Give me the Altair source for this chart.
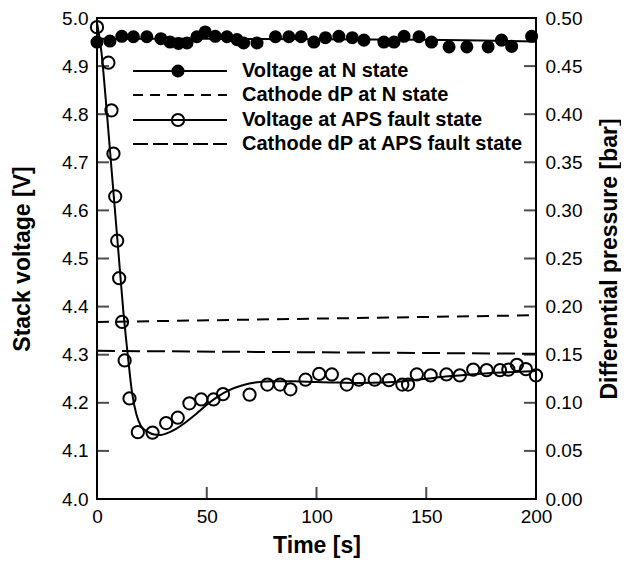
import altair as alt
import pandas as pd

FONT = "Liberation Sans"

# ---- data ----
n_t = [0, 5.9, 11.3, 16.6, 22.7, 29.1, 33.3, 37.1, 41.0, 45.5, 49.3, 53.9, 59.2, 63.8,
       66.8, 72.9, 81.3, 87.4, 93.0, 98.8, 104.1, 110.2, 116.3, 121.6, 130.7, 135.3,
       139.9, 146.7, 152.4, 160.4, 168.5, 178.2, 184.3, 188.9, 198.0]
n_v = [4.950, 4.952, 4.962, 4.961, 4.961, 4.957, 4.950, 4.947, 4.948, 4.961, 4.971, 4.962, 4.961, 4.955,
       4.948, 4.948, 4.961, 4.961, 4.961, 4.950, 4.959, 4.962, 4.959, 4.954, 4.950, 4.950,
       4.962, 4.961, 4.950, 4.940, 4.940, 4.940, 4.954, 4.941, 4.962]

n_fit_t = [0, 50, 100, 150, 175, 200]
n_fit_v = [4.957, 4.957, 4.956, 4.955, 4.953, 4.951]

aps_t = [0, 5.2, 6.6, 7.5, 8.3, 9.2, 10.1, 11.4, 12.6, 14.8, 18.6, 25.3, 31.5, 36.8, 42.1, 47.5,
         53.1, 57.4, 69.5, 77.6, 83.4, 88.1, 95.0, 101.2, 107.0, 113.8, 119.3, 126.5, 133.0,
         139.1, 141.7, 145.7, 152.0, 159.2, 165.3, 171.4, 177.5, 183.6, 187.4, 191.3, 195.4, 200.0]
aps_v = [4.981, 4.907, 4.808, 4.718, 4.629, 4.537, 4.459, 4.368, 4.288, 4.209, 4.139, 4.138, 4.158,
         4.169, 4.199, 4.207, 4.207, 4.218, 4.217, 4.238, 4.238, 4.228, 4.248, 4.260, 4.259, 4.238,
         4.248, 4.248, 4.247, 4.238, 4.238, 4.259, 4.257, 4.259, 4.257, 4.269, 4.268, 4.268, 4.269,
         4.279, 4.270, 4.257]

aps_fit_t = [0, 2, 4, 6, 8, 10, 12, 14, 16, 18, 20, 23, 26, 29, 32, 36, 40, 45, 50, 55, 60, 66,
             72, 80, 90, 100, 110, 120, 130, 140, 150, 160, 170, 180, 190, 200]
aps_fit_v = [4.990, 4.930, 4.830, 4.720, 4.610, 4.500, 4.390, 4.300, 4.220, 4.175, 4.152, 4.140,
             4.134, 4.133, 4.137, 4.146, 4.158, 4.176, 4.196, 4.213, 4.226, 4.236, 4.242, 4.245,
             4.245, 4.243, 4.242, 4.241, 4.242, 4.245, 4.250, 4.255, 4.259, 4.262, 4.264, 4.266]

dp_n_t = [0, 200]
dp_n = [0.184, 0.191]
dp_aps_t = [0, 200]
dp_aps = [0.154, 0.151]

x_ticks = [50, 100, 150]
y_ticks = [4.1, 4.2, 4.3, 4.4, 4.5, 4.6, 4.7, 4.8, 4.9]
x_labels = [0, 50, 100, 150, 200]
y_labels = [4.0, 4.1, 4.2, 4.3, 4.4, 4.5, 4.6, 4.7, 4.8, 4.9, 5.0]
p_labels = [0.0, 0.05, 0.10, 0.15, 0.20, 0.25, 0.30, 0.35, 0.40, 0.45, 0.50]

legend_labels = ["Voltage at N state", "Cathode dP at N state",
                 "Voltage at APS fault state", "Cathode dP at APS fault state"]

# ---- layout ----
W, H = 439, 481
TICK = 12

xs = alt.Scale(domain=[0, 200], nice=False)
ys = alt.Scale(domain=[4.0, 5.0], nice=False)
ps = alt.Scale(domain=[0.0, 0.5], nice=False)

df_n = pd.DataFrame({"t": n_t, "v": n_v})
df_nfit = pd.DataFrame({"t": n_fit_t, "v": n_fit_v})
df_aps = pd.DataFrame({"t": aps_t, "v": aps_v})
df_apsfit = pd.DataFrame({"t": aps_fit_t, "v": aps_fit_v})
df_dpn = pd.DataFrame({"t": dp_n_t, "p": dp_n})
df_dpa = pd.DataFrame({"t": dp_aps_t, "p": dp_aps})

common = dict(tickSize=0, domain=False, grid=False, labelFontSize=19, titleFontSize=23,
              titleFontWeight="bold", labelFont=FONT, titleFont=FONT,
              labelColor="black", titleColor="black")

bottom_axis = alt.Axis(values=x_labels, title="Time [s]", labelPadding=8, titlePadding=8,
                       labelFlush=False, **common)
left_axis = alt.Axis(values=y_labels, format=".1f", title="Stack voltage [V]",
                     labelPadding=9, titlePadding=27, labelFlush=False, **common)
right_axis = alt.Axis(values=p_labels, format=".2f", orient="right",
                      title="Differential pressure [bar]", labelPadding=9, titlePadding=40,
                      titleAngle=270, labelFlush=False, **common)

Xa = alt.X("t:Q", scale=xs, axis=bottom_axis)
Xn = alt.X("t:Q", scale=xs)

base_v = alt.Chart(df_n).mark_point(shape="circle", filled=True, size=170, color="black",
                                     opacity=1).encode(
    x=Xa, y=alt.Y("v:Q", scale=ys, axis=left_axis))

n_line = alt.Chart(df_nfit).mark_line(color="black", strokeWidth=2).encode(
    x=Xn, y=alt.Y("v:Q", scale=ys))

aps_line = alt.Chart(df_apsfit).mark_line(color="black", strokeWidth=2,
                                          interpolate="monotone").encode(
    x=Xn, y=alt.Y("v:Q", scale=ys))

aps_pts = alt.Chart(df_aps).mark_point(shape="circle", filled=False, size=150, color="black",
                                       strokeWidth=2, opacity=1).encode(
    x=Xn, y=alt.Y("v:Q", scale=ys))

voltage = alt.layer(base_v, n_line, aps_line, aps_pts)

dpn_line = alt.Chart(df_dpn).mark_line(color="black", strokeWidth=2,
                                       strokeDash=[12, 8]).encode(
    x=Xn, y=alt.Y("p:Q", scale=ps, axis=right_axis))
dpa_line = alt.Chart(df_dpa).mark_line(color="black", strokeWidth=2,
                                       strokeDash=[18, 7]).encode(
    x=Xn, y=alt.Y("p:Q", scale=ps))
pressure = alt.layer(dpn_line, dpa_line)

# inward ticks
xt = alt.Chart(pd.DataFrame({"t": x_ticks})).mark_tick(
    color="black", thickness=2, size=TICK, orient="vertical").encode(
    x=Xn, y=alt.value(H - TICK / 2))
ytl = alt.Chart(pd.DataFrame({"v": y_ticks})).mark_tick(
    color="black", thickness=2, size=TICK, orient="horizontal").encode(
    y=alt.Y("v:Q", scale=ys, axis=None), x=alt.value(TICK / 2))
ytr = alt.Chart(pd.DataFrame({"v": y_ticks})).mark_tick(
    color="black", thickness=2, size=TICK, orient="horizontal").encode(
    y=alt.Y("v:Q", scale=ys, axis=None), x=alt.value(W - TICK / 2))
ticks = alt.layer(xt, ytl, ytr)

# manual legend
one = pd.DataFrame({"a": [0]})
rows_y = [53, 77, 102, 126]
LX0, LX1, LXM, TX = 36, 130, 81, 145
leg = []
dashes = [None, [10, 7], None, [15, 5]]
for i, lab in enumerate(legend_labels):
    kw = {"color": "black", "strokeWidth": 2}
    if dashes[i]:
        kw["strokeDash"] = dashes[i]
    leg.append(alt.Chart(one).mark_rule(**kw).encode(
        x=alt.value(LX0), x2=alt.value(LX1), y=alt.value(rows_y[i])))
    leg.append(alt.Chart(one).mark_text(
        text=lab, font=FONT, fontSize=20, fontWeight="bold", align="left",
        baseline="middle", color="black").encode(x=alt.value(TX), y=alt.value(rows_y[i])))
leg.append(alt.Chart(one).mark_point(shape="circle", filled=True, size=170, color="black",
                                     opacity=1).encode(x=alt.value(LXM), y=alt.value(rows_y[0])))
leg.append(alt.Chart(one).mark_point(shape="circle", filled=False, size=150, color="black",
                                     strokeWidth=2, opacity=1).encode(
    x=alt.value(LXM), y=alt.value(rows_y[2])))
legend = alt.layer(*leg)

chart = alt.layer(voltage, pressure, ticks, legend).resolve_scale(
    y="independent").properties(
    width=W, height=H,
    autosize=alt.AutoSizeParams(type="none"),
    padding={"left": 89, "top": 10, "right": 85, "bottom": 68},
    background="white",
).configure_view(stroke="black", strokeWidth=2)

chart.save("out.html", embed_options={"renderer": "svg", "actions": False})
